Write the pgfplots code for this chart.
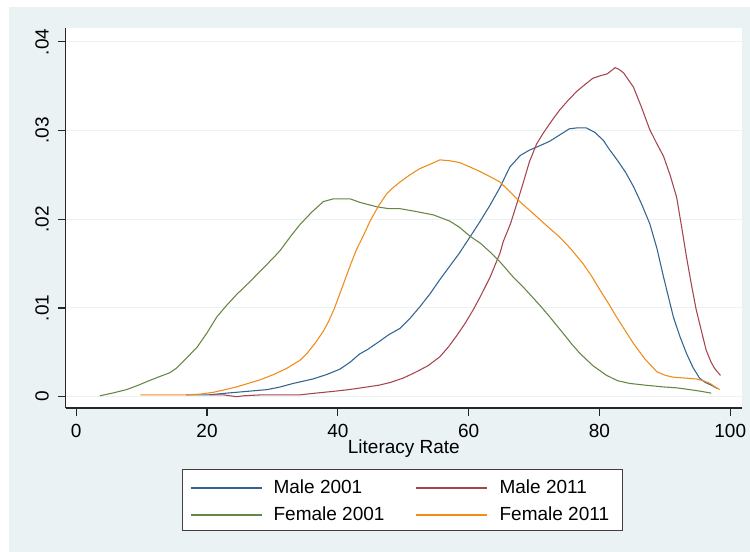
\documentclass[border=0pt]{standalone}
\usepackage{pgfplots}
\pgfplotsset{compat=1.18}
\usepackage{fontspec}
\setmainfont{Liberation Sans}
\definecolor{bgc}{HTML}{EAF2F3}
\definecolor{cblue}{HTML}{33638F}
\definecolor{cred}{HTML}{A5464F}
\definecolor{cgreen}{HTML}{658746}
\definecolor{corange}{HTML}{EF8C1A}
\newcommand{\legline}[1]{\textcolor{#1}{\rule[-0.75pt]{53.3pt}{1.5pt}}}
\begin{document}
\fontsize{14.25}{17}\selectfont
\begin{tikzpicture}
\fill[white] (0,0) rectangle (562.5pt,-414pt);
\fill[bgc] (6.75pt,-5.25pt) rectangle (562.5pt,-414pt);
\begin{axis}[
  at={(49.275pt,-306pt)}, anchor=south west,
  scale only axis, width=507.225pt, height=284.775pt,
  xmin=-1.61, xmax=101.8, ymin=-0.001274, ymax=0.041533,
  scaled y ticks=false, scaled x ticks=false,
  axis background/.style={fill=white},
  axis x line*=bottom, axis y line*=left,
  axis line style={-, black!85, line width=0.8pt},
  tick align=outside, major tick length=5.8pt,
  tick style={black!85, line width=0.8pt},
  xtick={0,20,40,60,80,100}, xticklabels={0,20,40,60,80,100},
  ytick={0,0.01,0.02,0.03,0.04}, yticklabels={0,.01,.02,.03,.04},
  minor tick num=0,
  xticklabel style={anchor=base, yshift=-16.5pt},
  yticklabel style={xshift=-7pt, rotate=90, anchor=base},
  ymajorgrids, major grid style={color=bgc, line width=0.75pt},
  xlabel={Literacy Rate},
  xlabel style={at={(axis description cs:0.5,0)}, anchor=base, yshift=-33.75pt},
]
\addplot[cblue, line width=0.8pt] coordinates {
(16.8,0.0002) (20.1,0.0002) (23.0,0.0004) (26.1,0.0006) (29.2,0.0008) (31.2,0.0011) (33.2,0.0015) (36.2,0.0020) (38.3,0.0025) (40.3,0.0031) (41.9,0.0039) (43.3,0.0048) (44.5,0.0053) (46.3,0.0062) (47.8,0.0070) (49.5,0.0077) (51.0,0.0088) (52.5,0.0101) (54.1,0.0116) (55.6,0.0132) (57.1,0.0147) (58.6,0.0162) (60.2,0.0180) (61.7,0.0197) (63.2,0.0215) (64.8,0.0236) (66.3,0.0259) (66.8,0.0263) (67.9,0.0272) (69.3,0.0278) (70.9,0.0283) (72.4,0.0288) (73.9,0.0295) (75.4,0.0302) (76.5,0.0303) (78.0,0.0303) (79.3,0.0298) (80.6,0.0289) (81.5,0.0279) (82.7,0.0267) (84.0,0.0253) (85.2,0.0237) (86.4,0.0218) (87.7,0.0195) (88.8,0.0167) (89.8,0.0135) (91.3,0.0090) (92.3,0.0068) (93.3,0.0049) (94.3,0.0033) (95.3,0.0021) (96.2,0.0016) (97.1,0.0013) (98.1,0.0009)
};
\addplot[cred, line width=0.8pt] coordinates {
(20.5,0.0002) (22.6,0.0002) (24.5,0.0000) (25.6,0.0001) (28.1,0.0002) (31.1,0.0002) (34.1,0.0002) (36.6,0.0004) (39.3,0.0006) (41.7,0.0008) (44.5,0.0011) (46.3,0.0013) (48.0,0.0016) (50.0,0.0021) (52.0,0.0028) (53.8,0.0035) (55.6,0.0045) (56.9,0.0056) (58.1,0.0068) (59.4,0.0082) (60.7,0.0098) (61.8,0.0113) (63.3,0.0135) (64.8,0.0162) (65.3,0.0175) (66.4,0.0195) (67.3,0.0216) (68.3,0.0240) (69.3,0.0265) (70.4,0.0285) (71.4,0.0297) (72.7,0.0311) (73.9,0.0323) (75.2,0.0334) (76.5,0.0344) (77.8,0.0352) (79.0,0.0359) (80.2,0.0362) (81.2,0.0364) (81.9,0.0368) (82.4,0.0371) (83.0,0.0369) (83.7,0.0365) (85.2,0.0349) (86.4,0.0327) (87.7,0.0301) (88.8,0.0285) (89.8,0.0271) (90.8,0.0250) (91.8,0.0225) (92.6,0.0190) (93.3,0.0158) (94.1,0.0125) (94.8,0.0098) (95.6,0.0074) (96.3,0.0053) (97.0,0.0040) (97.6,0.0032) (98.5,0.0024)
};
\addplot[cgreen, line width=0.8pt] coordinates {
(3.6,0.0001) (5.5,0.0004) (7.7,0.0008) (9.5,0.0013) (10.8,0.0017) (12.5,0.0022) (14.3,0.0027) (15.3,0.0032) (16.8,0.0043) (18.5,0.0056) (20.0,0.0072) (21.5,0.0090) (23.0,0.0103) (24.5,0.0115) (26.6,0.0130) (28.6,0.0145) (30.2,0.0157) (31.2,0.0165) (32.7,0.0180) (34.2,0.0194) (36.0,0.0208) (37.8,0.0220) (39.3,0.0223) (41.9,0.0223) (43.4,0.0219) (46.0,0.0214) (47.8,0.0212) (49.5,0.0212) (51.8,0.0209) (54.6,0.0205) (57.1,0.0198) (58.6,0.0191) (60.2,0.0181) (61.8,0.0173) (63.3,0.0163) (64.8,0.0152) (66.8,0.0135) (68.3,0.0124) (70.9,0.0103) (72.4,0.0090) (74.5,0.0071) (75.8,0.0059) (77.0,0.0049) (79.0,0.0035) (81.1,0.0024) (82.8,0.0018) (84.6,0.0015) (87.0,0.0013) (89.8,0.0011) (91.8,0.0010) (93.8,0.0008) (95.6,0.0006) (97.1,0.0004)
};
\addplot[corange, line width=0.8pt] coordinates {
(9.8,0.0002) (13.0,0.0002) (16.8,0.0002) (19.1,0.0003) (21.0,0.0005) (22.8,0.0008) (24.5,0.0011) (26.3,0.0015) (28.1,0.0019) (30.2,0.0025) (32.2,0.0032) (34.2,0.0041) (35.3,0.0049) (36.5,0.0060) (37.8,0.0074) (38.6,0.0085) (39.5,0.0100) (40.5,0.0120) (41.9,0.0148) (42.8,0.0165) (43.8,0.0180) (45.0,0.0199) (46.3,0.0216) (47.5,0.0229) (48.5,0.0236) (49.5,0.0242) (51.0,0.0250) (52.5,0.0257) (54.1,0.0262) (55.6,0.0267) (57.1,0.0266) (58.6,0.0264) (60.2,0.0259) (61.7,0.0254) (63.3,0.0248) (64.8,0.0242) (66.3,0.0231) (67.8,0.0220) (69.8,0.0207) (71.9,0.0193) (73.9,0.0180) (75.7,0.0166) (77.5,0.0150) (78.8,0.0136) (80.1,0.0120) (81.4,0.0105) (82.6,0.0090) (83.9,0.0075) (85.2,0.0060) (86.9,0.0043) (88.8,0.0028) (90.1,0.0024) (91.3,0.0022) (93.1,0.0021) (94.8,0.0020) (95.9,0.0018) (96.9,0.0015) (97.7,0.0011) (98.4,0.0008)
};
\end{axis}
% legend
\draw[black!75, line width=0.75pt, fill=white] (137.0pt,-352.0pt) rectangle (466.7pt,-398.0pt);
\node[anchor=west, inner sep=0pt] at (143.0pt,-365.625pt) {\legline{cblue}};
\node[anchor=west, inner sep=0pt] at (312.0pt,-365.625pt) {\legline{cred}};
\node[anchor=west, inner sep=0pt] at (143.0pt,-385.875pt) {\legline{cgreen}};
\node[anchor=west, inner sep=0pt] at (312.0pt,-385.875pt) {\legline{corange}};
\node[anchor=base west, inner sep=0pt] at (205.0pt,-370.0pt) {Male 2001};
\node[anchor=base west, inner sep=0pt] at (374.5pt,-370.0pt) {Male 2011};
\node[anchor=base west, inner sep=0pt] at (205.0pt,-390.0pt) {Female 2001};
\node[anchor=base west, inner sep=0pt] at (374.5pt,-390.0pt) {Female 2011};
\pgfresetboundingbox
\useasboundingbox (0,0) rectangle (562.5pt,-414pt);
\end{tikzpicture}
\end{document}
